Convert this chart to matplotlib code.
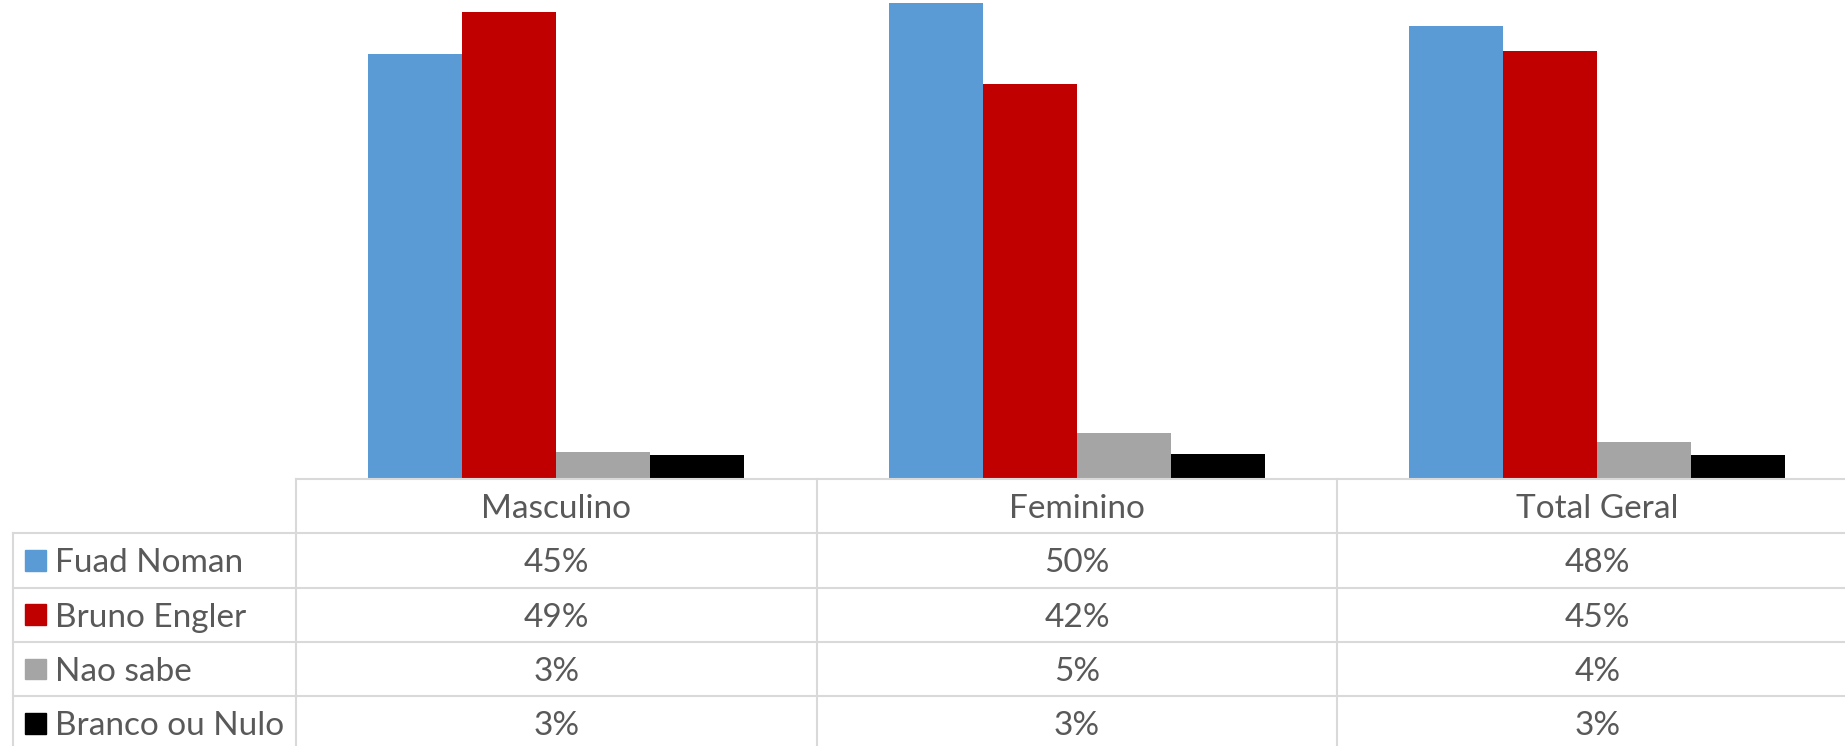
import matplotlib
matplotlib.use("Agg")
import matplotlib.pyplot as plt
from matplotlib.lines import Line2D
from matplotlib.patches import Rectangle

categories = ["Masculino", "Feminino", "Total Geral"]
series_names = ["Fuad Noman", "Bruno Engler", "Nao sabe", "Branco ou Nulo"]
fuad = [44.6, 50.0, 47.6]
bruno = [49.0, 41.5, 44.9]
nao_sabe = [2.9, 4.9, 3.9]
branco = [2.6, 2.7, 2.6]
series_values = [fuad, bruno, nao_sabe, branco]
colors = ["#5B9BD5", "#C00000", "#A5A5A5", "#000000"]

W, H = 1845, 746
fig = plt.figure(figsize=(W / 100, H / 100), dpi=100)
plt.rcParams['font.family'] = ['Lato', 'DejaVu Sans']

def fx(px):
    return px / W

def fy(py):
    return 1 - py / H

# plot area in pixel coordinates
left_px, right_px = 296, 1857.5
base_px, top_px = 479.3, 0
ax = fig.add_axes([fx(left_px), fy(base_px), fx(right_px - left_px), (base_px - top_px) / H])
ax.set_xlim(0, 3)
ax.set_ylim(0, 50.28)
ax.axis("off")

bw = 94 / 520.5
for s, (vals, col) in enumerate(zip(series_values, colors)):
    xs = [i + 0.5 + (s - 1.5) * bw for i in range(len(categories))]
    ax.bar(xs, vals, width=bw, color=col, edgecolor="none", zorder=2)

# table
grid_c = "#D9D9D9"
lw = 1.5
text_c = "#595959"
fs = 24
rows_y = [479.3, 533.3, 587.7, 642.0, 696.3, 750.5]
cols_x = [296, 817, 1337, 1857.5]
table_left = 13

def hline(y, x0, x1):
    fig.add_artist(Line2D([fx(x0), fx(x1)], [fy(y), fy(y)], color=grid_c, lw=lw, zorder=1))

def vline(x, y0, y1):
    fig.add_artist(Line2D([fx(x), fx(x)], [fy(y0), fy(y1)], color=grid_c, lw=lw, zorder=1))

hline(rows_y[0], cols_x[0], W + 5)
for y in rows_y[1:5]:
    hline(y, table_left, W + 5)
for x in cols_x[:3]:
    vline(x, rows_y[0], H + 5)
vline(table_left, rows_y[1], H + 5)

# header
hc = (rows_y[0] + rows_y[1]) / 2
for i, cat in enumerate(categories):
    cx = (cols_x[i] + cols_x[i + 1]) / 2
    fig.text(fx(cx), fy(hc), cat, ha="center", va="center_baseline", fontsize=fs, color=text_c)

# rows
for r, (name, vals, col) in enumerate(zip(series_names, series_values, colors)):
    cy = (rows_y[r + 1] + rows_y[r + 2]) / 2
    fig.add_artist(Rectangle((fx(25), fy(cy + 10.3)), fx(20.7), 20.7 / H, color=col, zorder=3))
    fig.text(fx(55), fy(cy), name, ha="left", va="center_baseline", fontsize=fs, color=text_c)
    for i, v in enumerate(vals):
        cx = (cols_x[i] + cols_x[i + 1]) / 2
        fig.text(fx(cx), fy(cy), f"{round(v)}%", ha="center", va="center_baseline", fontsize=fs, color=text_c)

fig.savefig("out.png", dpi=100)
